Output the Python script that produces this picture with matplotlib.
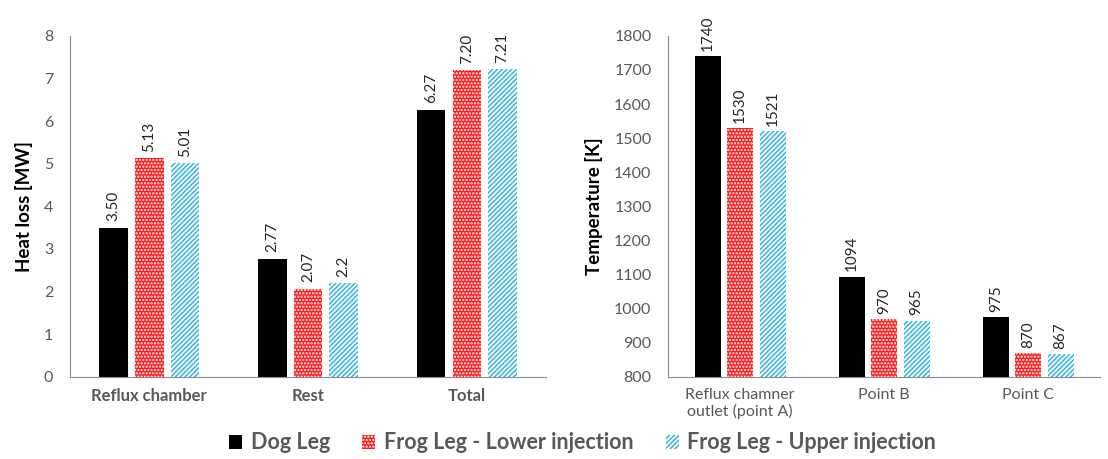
import numpy as np
import matplotlib.pyplot as plt
from matplotlib.patches import Patch

plt.rcParams['font.family'] = ['Lato', 'DejaVu Sans']
plt.rcParams['hatch.linewidth'] = 1.1

series = ['Dog Leg', 'Frog Leg - Lower injection', 'Frog Leg - Upper injection']

heat_cats = ['Reflux chamber', 'Rest', 'Total']
heat_dog = [3.50, 2.77, 6.27]
heat_lower = [5.13, 2.07, 7.20]
heat_upper = [5.01, 2.2, 7.21]
heat_lbl_dog = ['3.50', '2.77', '6.27']
heat_lbl_lower = ['5.13', '2.07', '7.20']
heat_lbl_upper = ['5.01', '2.2', '7.21']

temp_cats = ['Reflux chamner\noutlet (point A)', 'Point B', 'Point C']
temp_dog = [1740, 1094, 975]
temp_lower = [1530, 970, 870]
temp_upper = [1521, 965, 867]

gray = '#595959'
red = '#FF1A1A'
blue = '#33B5E5'

fig = plt.figure(figsize=(11.08, 4.59), dpi=100)
ax1 = fig.add_axes([0.063, 0.179, 0.43, 0.743])
ax2 = fig.add_axes([0.603, 0.179, 0.39, 0.743])


def draw(ax, cats, vals, labels, ymin, ymax, step, ylabel, offset, xbold):
    x = np.arange(len(cats))
    w = 0.18
    gap = 0.045
    styles = [
        dict(color='black'),
        dict(facecolor=red, edgecolor='white', hatch='.....', linewidth=0),
        dict(facecolor='white', edgecolor=blue, hatch='///////', linewidth=0),
    ]
    for i, (v, lab, st) in enumerate(zip(vals, labels, styles)):
        pos = x + (i - 1) * (w + gap)
        ax.bar(pos, np.array(v) - ymin, w, bottom=ymin, **st)
        for p, val, t in zip(pos, v, lab):
            ax.text(p, val + offset, t, rotation=90, ha='center', va='bottom',
                    fontsize=11, color='#262626')
    ax.set_xlim(-0.5, len(cats) - 0.5)
    ax.set_ylim(ymin, ymax)
    ax.set_yticks(np.arange(ymin, ymax + step / 2, step))
    ax.set_xticks(x)
    if xbold:
        ax.set_xticklabels(cats, fontsize=12, color=gray, fontweight='bold')
    else:
        ax.set_xticklabels(cats, fontsize=11.5, color=gray)
    ax.tick_params(axis='both', length=0, labelcolor=gray)
    ax.tick_params(axis='y', pad=12, labelsize=11.5)
    ax.tick_params(axis='x', pad=8)
    for s in ['top', 'right']:
        ax.spines[s].set_visible(False)
    for s in ['left', 'bottom']:
        ax.spines[s].set_color('#8c8c8c')
    ax.set_ylabel(ylabel, fontsize=13.5, fontweight='bold', labelpad=8)


draw(ax1, heat_cats, [heat_dog, heat_lower, heat_upper],
     [heat_lbl_dog, heat_lbl_lower, heat_lbl_upper], 0, 8, 1, 'Heat loss [MW]', 0.15, True)
draw(ax2, temp_cats, [temp_dog, temp_lower, temp_upper],
     [[str(v) for v in temp_dog], [str(v) for v in temp_lower], [str(v) for v in temp_upper]],
     800, 1800, 100, 'Temperature [K]', 15, False)

handles = [
    Patch(facecolor='black'),
    Patch(facecolor=red, edgecolor='white', hatch='.....', linewidth=0),
    Patch(facecolor='white', edgecolor=blue, hatch='///////', linewidth=0),
]
leg = fig.legend(handles, series, loc='lower center', bbox_to_anchor=(0.526, -0.03), ncol=3,
                 frameon=False, fontsize=15.5, handlelength=0.6, handleheight=0.6,
                 handletextpad=0.4, columnspacing=1.5)
for t in leg.get_texts():
    t.set_color(gray)
    t.set_fontweight('bold')

fig.savefig('out.png', dpi=100)
